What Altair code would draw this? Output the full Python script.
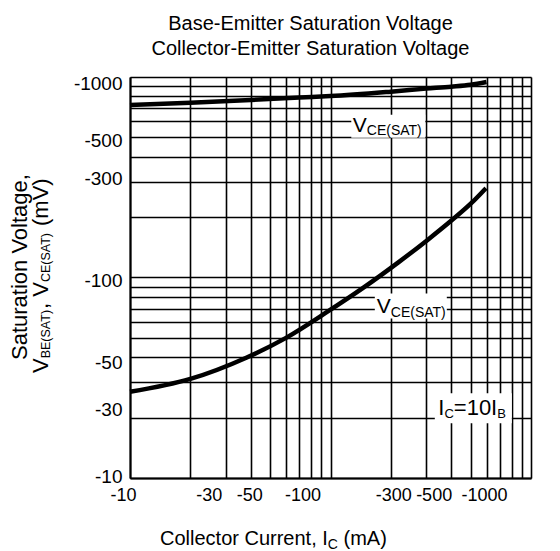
import json
import altair as alt
import pandas as pd

FONT = "Liberation Sans"

# ---- data ----
ic_vbe = [10, 20, 40, 70, 100, 200, 300, 400, 500, 600]
v_vbe = [725, 744, 768, 790, 803, 845, 875, 895, 915, 945]

ic_vce = [10, 20, 38, 60, 97, 146, 218, 305, 405, 502, 596]
v_vce = [26.9, 31.2, 39.8, 50, 67.7, 89, 119, 154, 194, 234, 279]

grid_values = [10, 20, 30, 40, 50, 60, 70, 80, 90,
               100, 200, 300, 400, 500, 600, 700, 800, 900, 1000]
x_tick_values = [10, 30, 50, 100, 300, 500, 1000]
y_tick_values = [10, 30, 50, 100, 300, 500, 1000]

title_lines = ["Base-Emitter Saturation Voltage", "Collector-Emitter Saturation Voltage"]

# annotation anchors (data coordinates)
ann_upper = {"Ic": 194.2, "V": 568.0}
ann_lower = {"Ic": 251.5, "V": 72.1}
ann_ratio = {"Ic": 515.5, "V": 22.3}

# ---- styling helpers ----
x_label_shift = {10: -7, 30: -17, 50: -21, 100: -28, 300: -33, 500: -37, 1000: -47}
y_label_shift = {10: -2, 30: 27, 50: 25, 100: 3, 300: -3, 500: 3, 1000: 6}

ARIAL = {' ': 278, '(': 333, ')': 333, ',': 278, '-': 333, '=': 584, '0': 556,
         '1': 556, 'A': 667, 'B': 667, 'C': 722, 'E': 667, 'I': 278, 'S': 667,
         'T': 611, 'V': 667, 'a': 556, 'c': 500, 'e': 556, 'g': 556, 'i': 222,
         'l': 222, 'm': 833, 'n': 556, 'o': 556, 'r': 333, 's': 500, 't': 278,
         'u': 556}


def tw(s, size):
    return sum(ARIAL.get(c, 556) for c in s) * size / 1000.0


def cond_offset(shifts):
    return {"condition": [{"test": f"datum.value == {k}", "value": v}
                          for k, v in shifts.items()], "value": 0}


def label_expr(vals):
    return f"indexof({json.dumps(vals)}, datum.value) >= 0 ? '-' + datum.value : ''"


common_axis = dict(values=grid_values, grid=True, gridColor="black", gridWidth=1.6,
                   gridOpacity=1, ticks=False, domainColor="black", domainWidth=2,
                   labelFont=FONT, labelColor="black",
                   labelFlush=False, labelOverlap=False, labelBound=False,
                   labelPadding=8, title=None)

X = alt.X("Ic:Q",
          scale=alt.Scale(type="log", domain=[10, 1000], nice=False),
          axis=alt.Axis(labelExpr=label_expr(x_tick_values), labelFontSize=18,
                        labelOffset=cond_offset(x_label_shift), **common_axis))
Y = alt.Y("V:Q",
          scale=alt.Scale(type="log", domain=[10, 1000], nice=False),
          axis=alt.Axis(labelExpr=label_expr(y_tick_values), labelFontSize=19,
                        labelOffset=cond_offset(y_label_shift), **common_axis))


def rich(runs, data, x, y, angle=0, start=0.0):
    """runs: (text, font size, baseline shift) drawn one after another."""
    layers = []
    cur = start
    for text, size, shift in runs:
        lead = len(text) - len(text.lstrip(" "))
        cur += tw(" " * lead, size)          # SVG collapses leading spaces
        body = text.strip(" ")
        props = dict(text=body, fontSize=size, font=FONT, color="black",
                     align="left", baseline="alphabetic", dx=cur, dy=shift)
        if angle:
            props["angle"] = angle
        layers.append(alt.Chart(data).mark_text(**props).encode(x=x, y=y))
        cur += tw(text.lstrip(" "), size)
    return layers


def box(anchor, w, h):
    r = h / w
    path = f"M-1,-{r:.3f} L1,-{r:.3f} L1,{r:.3f} L-1,{r:.3f} Z"
    return alt.Chart(pd.DataFrame([anchor])).mark_point(
        shape=path, size=w * w, filled=True, color="white", opacity=1,
        strokeWidth=0).encode(x=X, y=Y)


curves = pd.concat([
    pd.DataFrame({"Ic": ic_vbe, "V": v_vbe, "series": "VBE(SAT)"}),
    pd.DataFrame({"Ic": ic_vce, "V": v_vce, "series": "VCE(SAT)"}),
])

lines = alt.Chart(curves).mark_line(color="black", strokeWidth=4.5,
                                    interpolate="monotone").encode(
    x=X, y=Y, detail="series:N")

one = pd.DataFrame({"k": [0]})
layers = [
    box(ann_upper, 74, 23),
    box(ann_lower, 72, 25),
    box(ann_ratio, 77, 30),
]
layers += rich([("V", 21, 5.5), ("CE(SAT)", 14, 9)],
               pd.DataFrame([ann_upper]), X, Y, start=-35.5)
layers += rich([("V", 21, 7.5), ("CE(SAT)", 14, 11)],
               pd.DataFrame([ann_lower]), X, Y, start=-34)
layers += rich([("I", 22, 6.5), ("C", 13, 10.3), ("=10I", 22, 6.5), ("B", 13, 10.3)],
               pd.DataFrame([ann_ratio]), X, Y, start=-35)

# chart title (two centred lines)
for i, line in enumerate(title_lines):
    layers.append(alt.Chart(one).mark_text(
        text=line, font=FONT, fontSize=20, color="black", align="center",
        baseline="alphabetic").encode(x=alt.value(180.5), y=alt.value(-47 + 25 * i)))

# axis titles as rich text
layers += rich([("Collector Current, I", 20, 0), ("C", 14, 3.5), (" (mA)", 20, 0)],
               one, alt.value(30), alt.value(468))
layers += rich([("Saturation Voltage,", 22, 0)], one, alt.value(-103.5),
               alt.value(283), angle=270)
layers += rich([("V", 22, 0), ("BE(SAT)", 12.5, 2), (", ", 22, 0), ("V", 22, 0),
                ("CE(SAT)", 12.5, 2), (" (mV)", 22, 0)],
               one, alt.value(-81.7), alt.value(296), angle=270)

layers.append(lines)

chart = alt.layer(*layers).properties(
    width=401, height=401,
    padding={"left": 122, "top": 69, "right": 16, "bottom": 73},
    autosize=alt.AutoSizeParams(type="none"),
).configure_view(stroke="black", strokeWidth=1.5).configure(background="white")

chart.save("out.html", embed_options={"renderer": "svg", "actions": False})
